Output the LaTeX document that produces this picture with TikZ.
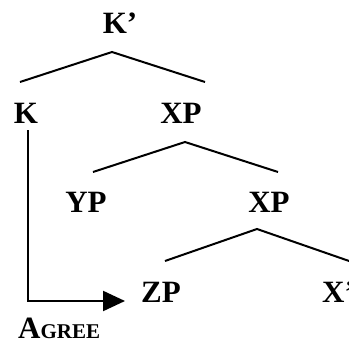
\documentclass[tikz,border=0pt]{standalone}
\usepackage{fontspec}
\setmainfont{Liberation Serif}
\usetikzlibrary{arrows.meta,calc}

\begin{document}
\begin{tikzpicture}[
  x=1pt,y=-1pt,
  every node/.style={font=\fontsize{31}{31}\selectfont\bfseries,inner sep=0pt,anchor=base},
  branch/.style={line width=2pt},
  agreearrow/.style={line width=2.2pt,-{Triangle[length=22pt,width=20pt]}}
]
\useasboundingbox (0,0) rectangle (349,343);
% labels
\node (kbar) at (120,33) {K'};
\node (k) at (26,123) {K};
\node (xp1) at (181,123) {XP};
\node (yp) at (86,212) {YP};
\node (xp2) at (269,212) {XP};
\node (zp) at (161,302) {ZP};
\node[anchor=base west] (xbar) at (322,302) {X'};
\node[anchor=base west,text depth=0pt] (agree) at (18,338) {A{\fontsize{21}{21}\selectfont GREE}};
% branches
\coordinate (top1) at (112,52);
\coordinate (top2) at (185,142);
\coordinate (top3) at (257,229);
\draw[branch] (20,82) -- (top1) -- (205,82);
\draw[branch] (93,172) -- (top2) -- (278,172);
\draw[branch] (165,261) -- (top3) -- (352,262);
% agree
\coordinate (tip) at (125,301);
\draw[agreearrow] ([xshift=2pt,yshift=-7pt]k.south) |- (tip);
\end{tikzpicture}
\end{document}
